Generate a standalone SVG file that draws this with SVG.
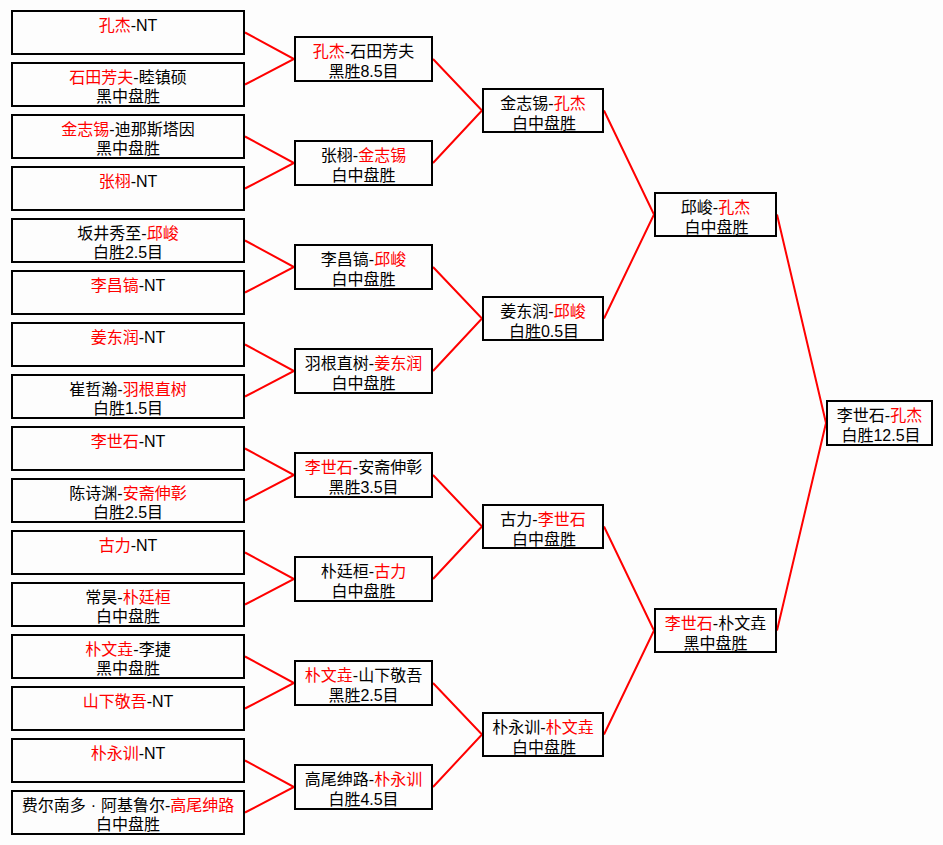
<svg xmlns="http://www.w3.org/2000/svg" width="943" height="845" viewBox="0 0 943 845">
<style>
.box{fill:none;stroke:#000;stroke-width:2}
.t{font-family:"Liberation Sans","Noto Sans CJK SC",sans-serif;font-size:16px;fill:#000;text-anchor:middle}
.r{fill:#ff0000}
.ln{stroke:#ff0000;stroke-width:2;fill:none}
</style>
<rect x="0" y="0" width="943" height="845" fill="#fdfdfd"/>
<g id="connectors">
<path class="ln" d="M245,32.5L294,59L245,84.5"/>
<path class="ln" d="M245,136.5L294,163L245,188.5"/>
<path class="ln" d="M245,240.5L294,267L245,292.5"/>
<path class="ln" d="M245,344.5L294,371L245,396.5"/>
<path class="ln" d="M245,448.5L294,475L245,500.5"/>
<path class="ln" d="M245,552.5L294,579L245,604.5"/>
<path class="ln" d="M245,656.5L294,683L245,708.5"/>
<path class="ln" d="M245,760.5L294,787L245,812.5"/>
<path class="ln" d="M433,59L482,110.5L433,163"/>
<path class="ln" d="M433,267L482,318.5L433,371"/>
<path class="ln" d="M433,475L482,526.5L433,579"/>
<path class="ln" d="M433,683L482,734.5L433,787"/>
<path class="ln" d="M604,110.5L654,214.5L604,318.5"/>
<path class="ln" d="M604,526.5L654,630.5L604,734.5"/>
<path class="ln" d="M777,214.5L826,423L777,630.5"/>
</g>
<g id="r1-1"><rect class="box" x="12" y="11" width="232" height="43"/><text class="t" x="128" y="31"><tspan class="r">孔杰</tspan>-NT</text></g>
<g id="r1-2"><rect class="box" x="12" y="63" width="232" height="43"/><text class="t" x="128" y="83"><tspan class="r">石田芳夫</tspan>-睦镇硕</text><text class="t" x="128" y="102">黑中盘胜</text></g>
<g id="r1-3"><rect class="box" x="12" y="115" width="232" height="43"/><text class="t" x="128" y="135"><tspan class="r">金志锡</tspan>-迪那斯塔因</text><text class="t" x="128" y="154">黑中盘胜</text></g>
<g id="r1-4"><rect class="box" x="12" y="167" width="232" height="43"/><text class="t" x="128" y="187"><tspan class="r">张栩</tspan>-NT</text></g>
<g id="r1-5"><rect class="box" x="12" y="219" width="232" height="43"/><text class="t" x="128" y="239">坂井秀至-<tspan class="r">邱峻</tspan></text><text class="t" x="128" y="258">白胜2.5目</text></g>
<g id="r1-6"><rect class="box" x="12" y="271" width="232" height="43"/><text class="t" x="128" y="291"><tspan class="r">李昌镐</tspan>-NT</text></g>
<g id="r1-7"><rect class="box" x="12" y="323" width="232" height="43"/><text class="t" x="128" y="343"><tspan class="r">姜东润</tspan>-NT</text></g>
<g id="r1-8"><rect class="box" x="12" y="375" width="232" height="43"/><text class="t" x="128" y="395">崔哲瀚-<tspan class="r">羽根直树</tspan></text><text class="t" x="128" y="414">白胜1.5目</text></g>
<g id="r1-9"><rect class="box" x="12" y="427" width="232" height="43"/><text class="t" x="128" y="447"><tspan class="r">李世石</tspan>-NT</text></g>
<g id="r1-10"><rect class="box" x="12" y="479" width="232" height="43"/><text class="t" x="128" y="499">陈诗渊-<tspan class="r">安斋伸彰</tspan></text><text class="t" x="128" y="518">白胜2.5目</text></g>
<g id="r1-11"><rect class="box" x="12" y="531" width="232" height="43"/><text class="t" x="128" y="551"><tspan class="r">古力</tspan>-NT</text></g>
<g id="r1-12"><rect class="box" x="12" y="583" width="232" height="43"/><text class="t" x="128" y="603">常昊-<tspan class="r">朴廷桓</tspan></text><text class="t" x="128" y="622">白中盘胜</text></g>
<g id="r1-13"><rect class="box" x="12" y="635" width="232" height="43"/><text class="t" x="128" y="655"><tspan class="r">朴文垚</tspan>-李捷</text><text class="t" x="128" y="674">黑中盘胜</text></g>
<g id="r1-14"><rect class="box" x="12" y="687" width="232" height="43"/><text class="t" x="128" y="707"><tspan class="r">山下敬吾</tspan>-NT</text></g>
<g id="r1-15"><rect class="box" x="12" y="739" width="232" height="43"/><text class="t" x="128" y="759"><tspan class="r">朴永训</tspan>-NT</text></g>
<g id="r1-16"><rect class="box" x="12" y="791" width="232" height="43"/><text class="t" x="128" y="811">费尔南多<tspan dx="5">·</tspan><tspan dx="5">阿基鲁尔-</tspan><tspan class="r">高尾绅路</tspan></text><text class="t" x="128" y="830">白中盘胜</text></g>
<g id="r2-1"><rect class="box" x="295" y="37" width="137" height="44"/><text class="t" x="363.5" y="57"><tspan class="r">孔杰</tspan>-石田芳夫</text><text class="t" x="363.5" y="77">黑胜8.5目</text></g>
<g id="r2-2"><rect class="box" x="295" y="141" width="137" height="44"/><text class="t" x="363.5" y="161">张栩-<tspan class="r">金志锡</tspan></text><text class="t" x="363.5" y="181">白中盘胜</text></g>
<g id="r2-3"><rect class="box" x="295" y="245" width="137" height="44"/><text class="t" x="363.5" y="265">李昌镐-<tspan class="r">邱峻</tspan></text><text class="t" x="363.5" y="285">白中盘胜</text></g>
<g id="r2-4"><rect class="box" x="295" y="349" width="137" height="44"/><text class="t" x="363.5" y="369">羽根直树-<tspan class="r">姜东润</tspan></text><text class="t" x="363.5" y="389">白中盘胜</text></g>
<g id="r2-5"><rect class="box" x="295" y="453" width="137" height="44"/><text class="t" x="363.5" y="473"><tspan class="r">李世石</tspan>-安斋伸彰</text><text class="t" x="363.5" y="493">黑胜3.5目</text></g>
<g id="r2-6"><rect class="box" x="295" y="557" width="137" height="44"/><text class="t" x="363.5" y="577">朴廷桓-<tspan class="r">古力</tspan></text><text class="t" x="363.5" y="597">白中盘胜</text></g>
<g id="r2-7"><rect class="box" x="295" y="661" width="137" height="44"/><text class="t" x="363.5" y="681"><tspan class="r">朴文垚</tspan>-山下敬吾</text><text class="t" x="363.5" y="701">黑胜2.5目</text></g>
<g id="r2-8"><rect class="box" x="295" y="765" width="137" height="44"/><text class="t" x="363.5" y="785">高尾绅路-<tspan class="r">朴永训</tspan></text><text class="t" x="363.5" y="805">白胜4.5目</text></g>
<g id="r3-1"><rect class="box" x="483" y="89" width="120" height="43"/><text class="t" x="543" y="109">金志锡-<tspan class="r">孔杰</tspan></text><text class="t" x="544" y="129">白中盘胜</text></g>
<g id="r3-2"><rect class="box" x="483" y="297" width="120" height="43"/><text class="t" x="543" y="317">姜东润-<tspan class="r">邱峻</tspan></text><text class="t" x="544" y="337">白胜0.5目</text></g>
<g id="r3-3"><rect class="box" x="483" y="505" width="120" height="43"/><text class="t" x="543" y="525">古力-<tspan class="r">李世石</tspan></text><text class="t" x="544" y="545">白中盘胜</text></g>
<g id="r3-4"><rect class="box" x="483" y="713" width="120" height="43"/><text class="t" x="543" y="733">朴永训-<tspan class="r">朴文垚</tspan></text><text class="t" x="544" y="753">白中盘胜</text></g>
<g id="r4-1"><rect class="box" x="655" y="193" width="121" height="43"/><text class="t" x="715.5" y="213">邱峻-<tspan class="r">孔杰</tspan></text><text class="t" x="716.5" y="233">白中盘胜</text></g>
<g id="r4-2"><rect class="box" x="655" y="609" width="121" height="43"/><text class="t" x="715.5" y="629"><tspan class="r">李世石</tspan>-朴文垚</text><text class="t" x="715.5" y="649">黑中盘胜</text></g>
<g id="final"><rect class="box" x="827" y="401" width="105" height="44"/><text class="t" x="879.5" y="421">李世石-<tspan class="r">孔杰</tspan></text><text class="t" x="881" y="441">白胜12.5目</text></g>
</svg>
